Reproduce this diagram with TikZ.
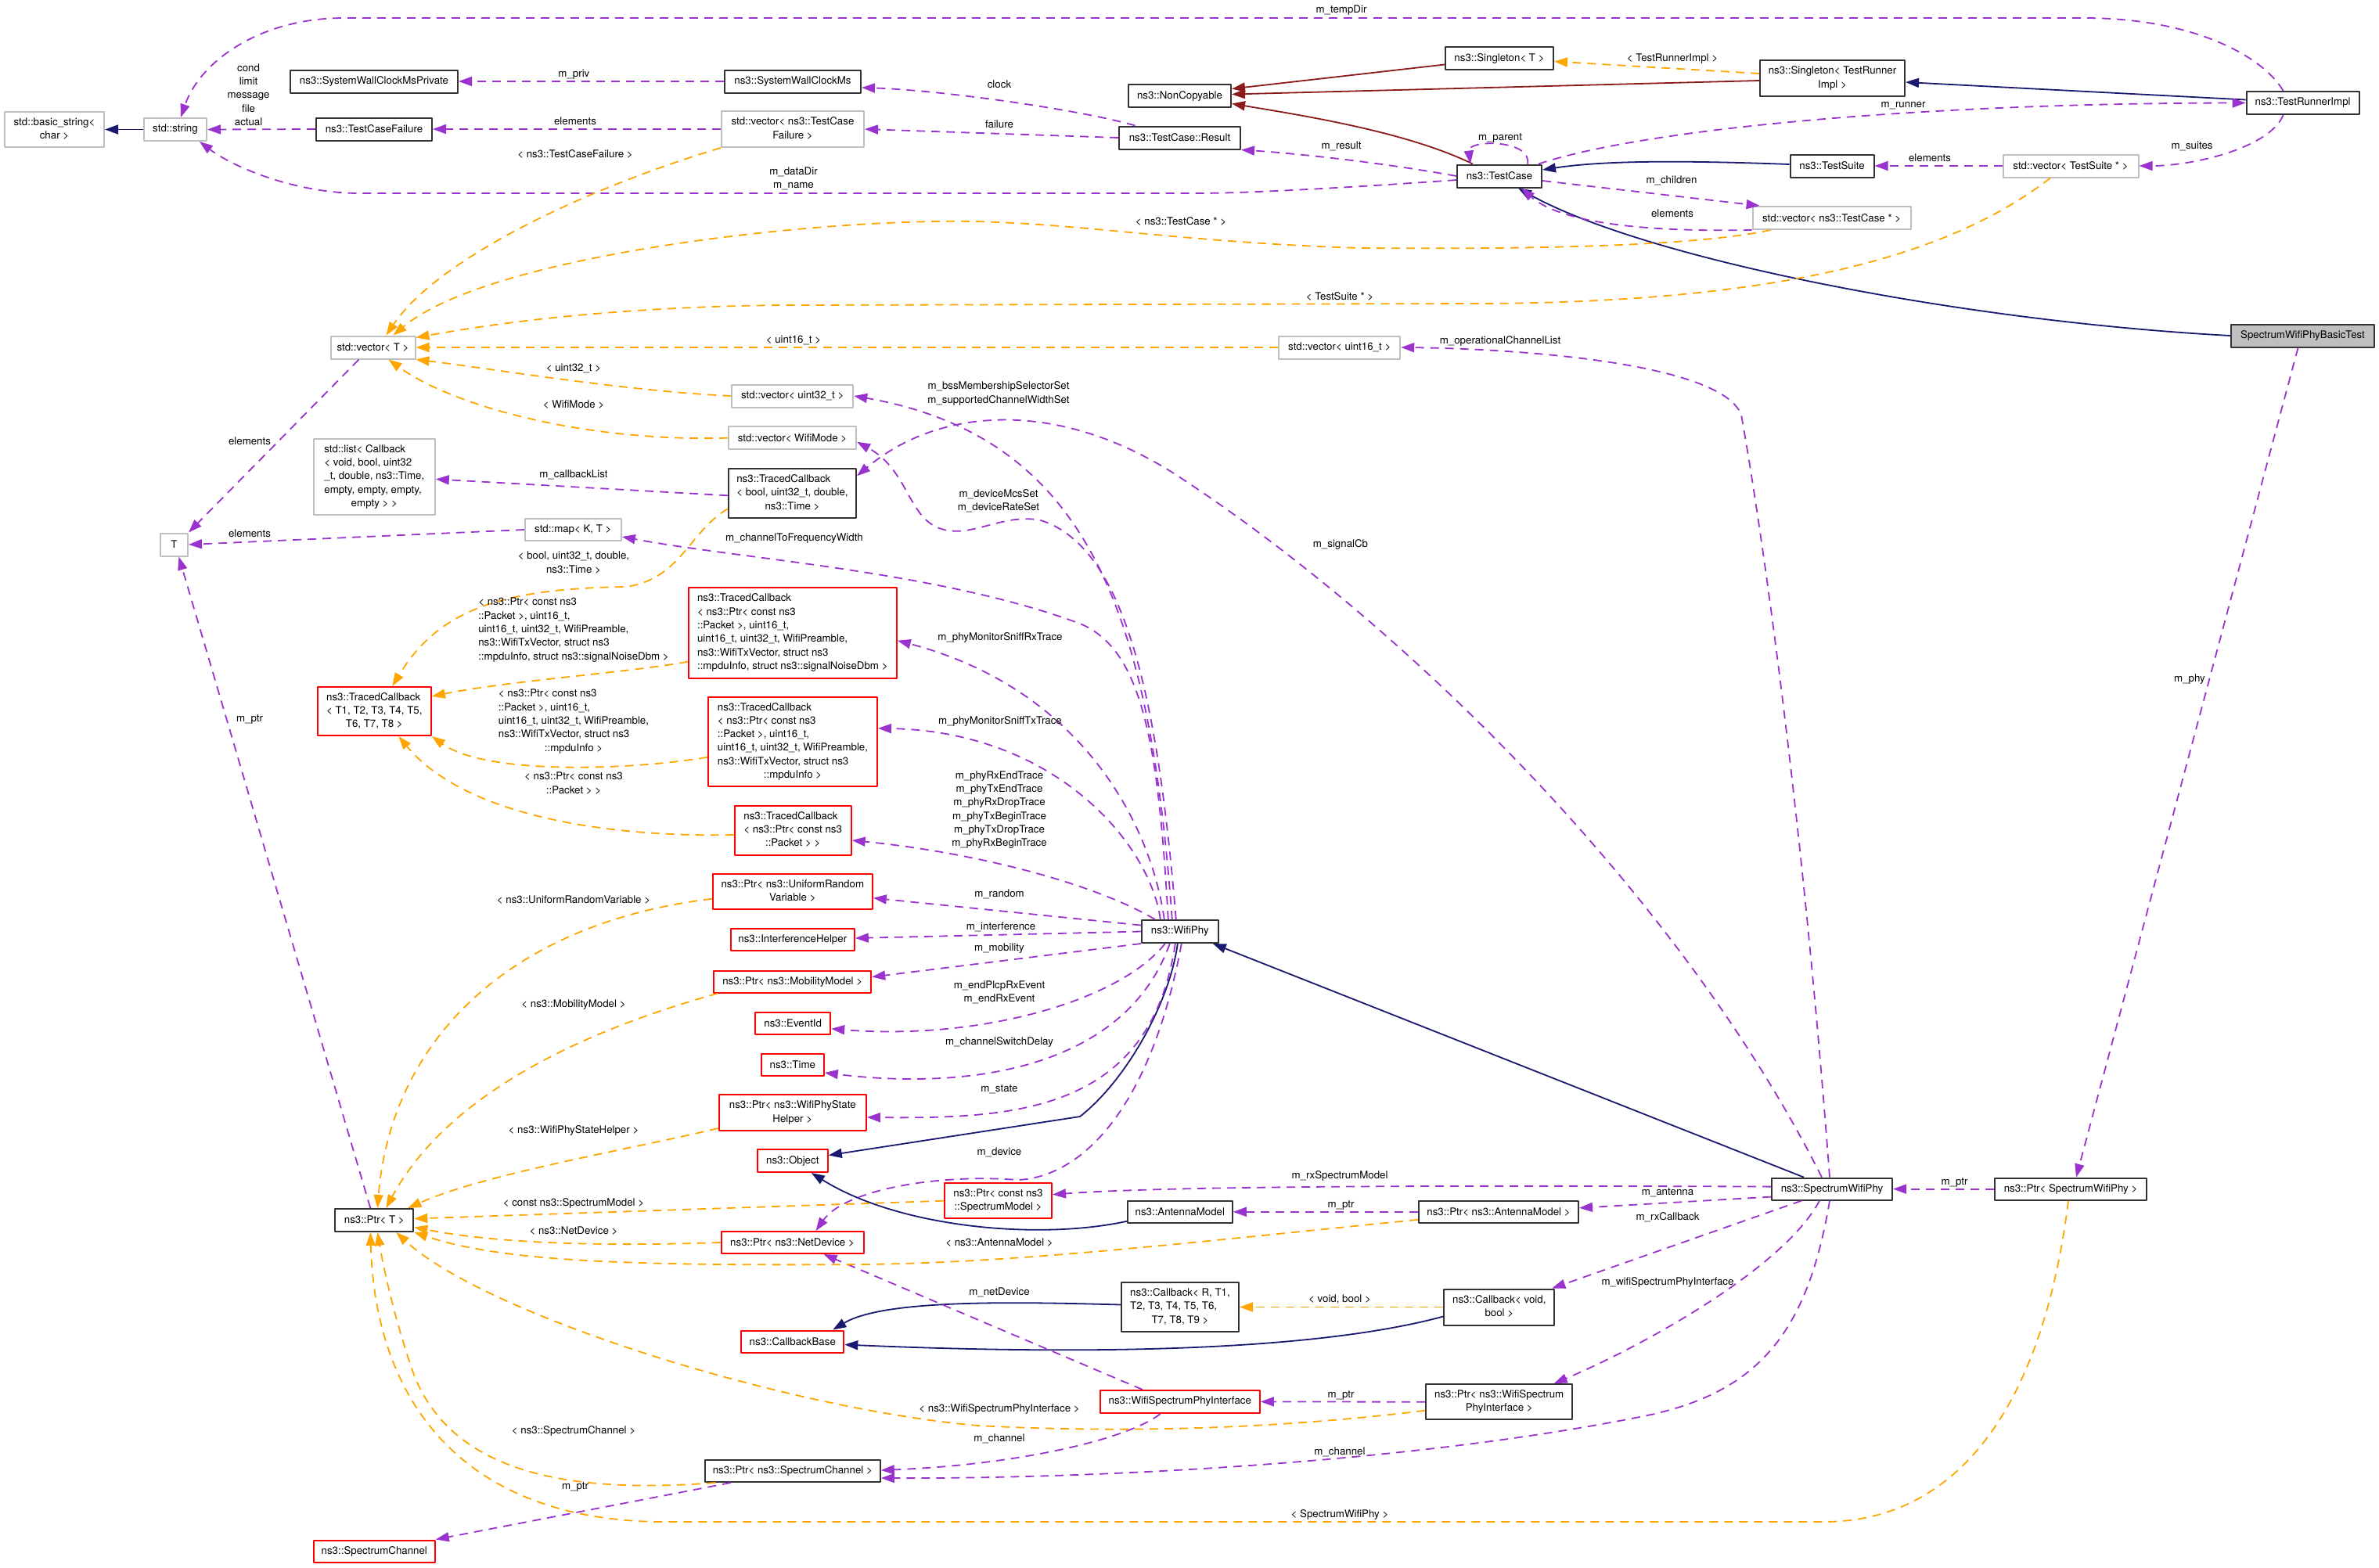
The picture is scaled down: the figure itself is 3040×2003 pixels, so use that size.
\documentclass[tikz,border=0pt]{standalone}
\usepackage{fontspec}
\setmainfont{TeX Gyre Heros}
\usetikzlibrary{arrows.meta}
\definecolor{usecol}{RGB}{154,50,205}
\definecolor{tplcol}{RGB}{255,165,0}
\definecolor{pubcol}{RGB}{25,25,112}
\definecolor{prvcol}{RGB}{139,26,26}
\definecolor{extcol}{RGB}{191,191,191}
\newcommand{\dxf}{\fontsize{13.3pt}{17.3pt}\selectfont}
\newcommand{\dotlines}[2]{\begin{tabular}{@{}l@{}}#1\\\multicolumn{1}{@{}c@{}}{#2}\end{tabular}}
\begin{document}
\begin{tikzpicture}[x=1pt, y=-1pt, font=\dxf, line join=round,
    cls/.style={draw=black!80, line width=2pt, fill=white, inner sep=0pt},
    ext/.style={cls, draw=extcol},
    undoc/.style={cls, draw=red},
    focus/.style={cls, fill=extcol},
    lbl/.style={inner sep=0pt, align=center},
    usage/.style={draw=usecol, line width=1.8pt, dash pattern=on 11pt off 8pt, -{Triangle[length=17pt,width=12pt]}},
    tpl/.style={usage, draw=tplcol},
    pub/.style={draw=pubcol, line width=1.8pt, -{Triangle[length=17pt,width=12pt]}},
    prv/.style={pub, draw=prvcol}]
    \useasboundingbox (0,0) rectangle (3040,2003);
    % ---- test framework ----
    \node[ext, minimum width=127pt, minimum height=45pt] (bstr) at (69.5,165.5) {\dotlines{std::basic\_string<}{char >}};
    \node[ext, minimum width=80pt, minimum height=29pt] (str) at (224,165.5) {std::string};
    \node[cls, minimum width=214pt, minimum height=29pt] (swcp) at (478,104) {ns3::SystemWallClockMsPrivate};
    \node[cls, minimum width=148pt, minimum height=29pt] (tcf) at (478,165) {ns3::TestCaseFailure};
    \node[cls, minimum width=174pt, minimum height=29pt] (swc) at (1013,104) {ns3::SystemWallClockMs};
    \node[ext, minimum width=182pt, minimum height=46pt] (vtcf) at (1013,165) {\dotlines{std::vector< ns3::TestCase}{Failure >}};
    \node[cls, minimum width=131pt, minimum height=29pt] (nc) at (1507.5,122.5) {ns3::NonCopyable};
    \node[cls, minimum width=155pt, minimum height=29pt] (res) at (1507.5,176) {ns3::TestCase::Result};
    \node[cls, minimum width=138pt, minimum height=29pt] (sgt) at (1916,74.5) {ns3::Singleton< T >};
    \node[cls, minimum width=185pt, minimum height=46pt] (sgr) at (2341.5,100) {\dotlines{ns3::Singleton< TestRunner}{Impl >}};
    \node[cls, minimum width=144pt, minimum height=29pt] (tri) at (2942.6,131.5) {ns3::TestRunnerImpl};
    \node[cls, minimum width=108pt, minimum height=29pt] (tc) at (1916,225) {ns3::TestCase};
    \node[cls, minimum width=107pt, minimum height=29pt] (ts) at (2341,212) {ns3::TestSuite};
    \node[ext, minimum width=173pt, minimum height=29pt] (vts) at (2646,212) {std::vector< TestSuite * >};
    \node[ext, minimum width=202pt, minimum height=29pt] (vtc) at (2340.6,278.5) {std::vector< ns3::TestCase * >};
    \node[focus, minimum width=183pt, minimum height=29pt] (basic) at (2942.5,429) {SpectrumWifiPhyBasicTest};
    % ---- containers ----
    \node[ext, minimum width=108pt, minimum height=29pt] (vt) at (476.5,444) {std::vector< T >};
    \node[ext, minimum width=155pt, minimum height=29pt] (v16) at (1711.7,444) {std::vector< uint16\_t >};
    \node[ext, minimum width=155pt, minimum height=29pt] (v32) at (1012.7,506) {std::vector< uint32\_t >};
    \node[ext, minimum width=163pt, minimum height=29pt] (vwm) at (1012.5,559.7) {std::vector< WifiMode >};
    \node[ext, minimum width=155pt, minimum height=97pt] (lst) at (478.3,609.4) {\dotlines{std::list< Callback\\< void, bool, uint32\\\_t, double, ns3::Time,\\empty, empty, empty,}{empty > >}};
    \node[cls, minimum width=163pt, minimum height=63pt] (tcb) at (1012.5,630.3) {\dotlines{ns3::TracedCallback\\< bool, uint32\_t, double,}{ns3::Time >}};
    \node[ext, minimum width=35pt, minimum height=29pt] (tT) at (222.5,696) {T};
    \node[ext, minimum width=123pt, minimum height=28pt] (map) at (732.3,677) {std::map< K, T >};
    % ---- traced callbacks ----
    \node[undoc, minimum width=145pt, minimum height=62pt] (tc8) at (478.3,909) {\dotlines{ns3::TracedCallback\\< T1, T2, T3, T4, T5,}{T6, T7, T8 >}};
    \node[undoc, minimum width=266pt, minimum height=116pt] (tcs) at (1012.8,808.7) {\dotlines{ns3::TracedCallback\\< ns3::Ptr< const ns3\\::Packet >, uint16\_t,\\uint16\_t, uint32\_t, WifiPreamble,\\ns3::WifiTxVector, struct ns3}{::mpduInfo, struct ns3::signalNoiseDbm >}};
    \node[undoc, minimum width=216pt, minimum height=114pt] (tcm) at (1013,947.8) {\dotlines{ns3::TracedCallback\\< ns3::Ptr< const ns3\\::Packet >, uint16\_t,\\uint16\_t, uint32\_t, WifiPreamble,\\ns3::WifiTxVector, struct ns3}{::mpduInfo >}};
    \node[undoc, minimum width=149pt, minimum height=63pt] (tcp) at (1013.2,1061) {\dotlines{ns3::TracedCallback\\< ns3::Ptr< const ns3}{::Packet > >}};
    % ---- wifi phy members ----
    \node[undoc, minimum width=204pt, minimum height=45pt] (urv) at (1012.8,1139.7) {\dotlines{ns3::Ptr< ns3::UniformRandom}{Variable >}};
    \node[undoc, minimum width=158pt, minimum height=28pt] (ih) at (1012.8,1201) {ns3::InterferenceHelper};
    \node[undoc, minimum width=201pt, minimum height=28pt] (mob) at (1012.7,1254.6) {ns3::Ptr< ns3::MobilityModel >};
    \node[undoc, minimum width=96pt, minimum height=28pt] (eid) at (1013.2,1307.8) {ns3::EventId};
    \node[undoc, minimum width=80pt, minimum height=28pt] (tim) at (1012.8,1361) {ns3::Time};
    \node[undoc, minimum width=188pt, minimum height=46pt] (psh) at (1012.8,1422) {\dotlines{ns3::Ptr< ns3::WifiPhyState}{Helper >}};
    \node[undoc, minimum width=90pt, minimum height=29pt] (obj) at (1012.8,1483.5) {ns3::Object};
    \node[cls, minimum width=100pt, minimum height=29pt] (ptrT) at (478.3,1559.5) {ns3::Ptr< T >};
    \node[undoc, minimum width=182pt, minimum height=28pt] (pnd) at (1012.5,1588) {ns3::Ptr< ns3::NetDevice >};
    \node[undoc, minimum width=131pt, minimum height=28pt] (cbb) at (1012.8,1714.5) {ns3::CallbackBase};
    \node[cls, minimum width=224pt, minimum height=28pt] (psc) at (1012.8,1880) {ns3::Ptr< ns3::SpectrumChannel >};
    \node[undoc, minimum width=155pt, minimum height=28pt] (sch) at (478.3,1982.5) {ns3::SpectrumChannel};
    \node[cls, minimum width=98pt, minimum height=29pt] (wp) at (1507.8,1190.5) {ns3::WifiPhy};
    \node[undoc, minimum width=137pt, minimum height=45pt] (psm) at (1275.5,1534.7) {\dotlines{ns3::Ptr< const ns3}{::SpectrumModel >}};
    \node[cls, minimum width=134pt, minimum height=28pt] (am) at (1507.8,1548.8) {ns3::AntennaModel};
    \node[cls, minimum width=204pt, minimum height=28pt] (pam) at (1915,1548.8) {ns3::Ptr< ns3::AntennaModel >};
    \node[cls, minimum width=150pt, minimum height=63pt] (cbr) at (1508,1670.5) {\dotlines{ns3::Callback< R, T1,\\T2, T3, T4, T5, T6,}{T7, T8, T9 >}};
    \node[cls, minimum width=141pt, minimum height=46pt] (cbv) at (1915.8,1670.5) {\dotlines{ns3::Callback< void,}{bool >}};
    \node[undoc, minimum width=204pt, minimum height=29pt] (wspi) at (1507.8,1791.4) {ns3::WifiSpectrumPhyInterface};
    \node[cls, minimum width=187pt, minimum height=45pt] (pwspi) at (1915.7,1791.7) {\dotlines{ns3::Ptr< ns3::WifiSpectrum}{PhyInterface >}};
    \node[cls, minimum width=154pt, minimum height=28pt] (swp) at (2341,1519.6) {ns3::SpectrumWifiPhy};
    \node[cls, minimum width=194pt, minimum height=28pt] (pswp) at (2646,1519.6) {ns3::Ptr< SpectrumWifiPhy >};
    % ---- inheritance ----
    \draw[pub] (str.west) -- (bstr.east);
    \draw[pub] ([yshift=4pt]tri.west) -- ([yshift=-5pt]sgr.east);
    \draw[pub] ([yshift=2pt]ts.west) .. controls (2150,205) and (2050,205) .. ([yshift=8pt]tc.east);
    \draw[pub] (basic.west) .. controls (2500,410) and (2100,330) .. ([xshift=24pt]tc.south);
    \draw[pub] ([xshift=-36pt]swp.north) -- ([xshift=42pt]wp.south);
    \draw[pub] ([xshift=-3pt]wp.south) .. controls (1495,1280) and (1440,1380) .. (1380,1427) -- ([yshift=7pt]obj.east);
    \draw[pub] ([yshift=-12pt]am.west) .. controls (1330,1585) and (1150,1570) .. ([xshift=24pt]obj.south);
    \draw[pub] ([yshift=3pt]cbr.west) .. controls (1300,1664) and (1130,1660) .. ([xshift=-15pt]cbb.north east);
    \draw[pub] ([yshift=-12pt]cbv.west) .. controls (1650,1735) and (1300,1728) .. ([yshift=-4pt]cbb.east);
    \draw[prv] ([yshift=-8pt]sgt.west) -- ([yshift=9pt]nc.east);
    \draw[prv] ([yshift=-3pt]sgr.west) -- ([yshift=2pt]nc.east);
    \draw[prv] ([xshift=-34pt]tc.north) .. controls (1800,170) and (1680,150) .. ([yshift=-10pt]nc.east);
    % ---- members ----
    \draw[usage] ([xshift=-25pt]tri.north) .. controls (2890,70) and (2800,23) .. (2663,23) -- (440,23) .. controls (330,23) and (255,80) .. ([xshift=7pt]str.north);
    \draw[usage] (tcf.west) -- (str.east);
    \draw[usage] (swc.west) -- (swcp.east);
    \draw[usage] (vtcf.west) -- (tcf.east);
    \draw[usage] ([xshift=-57pt]res.north) .. controls (1380,140) and (1200,115) .. ([yshift=-8pt]swc.east);
    \draw[usage] (res.west) -- (vtcf.east);
    \draw[usage] (tc.west) .. controls (1750,205) and (1640,195) .. (res.south east);
    \draw[usage] ([xshift=36pt]tc.north) .. controls (1958,178) and (1875,178) .. ([xshift=-37pt]tc.north);
    \draw[usage] ([yshift=-5pt]tc.west) .. controls (1750,238) and (1600,247) .. (1531,247) -- (459,247) .. controls (380,247) and (300,215) .. ([xshift=31pt]str.south);
    \draw[usage] ([xshift=50pt]tc.north) .. controls (2100,165) and (2450,132) .. (tri.west);
    \draw[usage] ([xshift=-25pt]tri.south) .. controls (2900,190) and (2800,212) .. (vts.east);
    \draw[usage] (vts.west) -- (ts.east);
    \draw[usage] ([yshift=-6pt]tc.east) -- ([xshift=10pt]vtc.north west);
    \draw[usage] (vtc.south west) .. controls (2130,296) and (2000,290) .. ([xshift=28pt]tc.south);
    \draw[usage] ([xshift=-6pt]basic.south) -- ([xshift=7pt]pswp.north);
    \draw[usage] (pswp.west) -- (swp.east);
    \draw[usage] ([xshift=-3pt]swp.north) .. controls (2300,1000) and (2245,640) .. (2225,530) .. controls (2200,465) and (1950,446) .. (v16.east);
    \draw[usage] ([xshift=-13pt]swp.north) .. controls (2150,1150) and (1800,800) .. (1500,605) .. controls (1350,510) and (1200,520) .. ([yshift=22pt]tcb.east);
    \draw[usage] ([xshift=-10pt]wp.north) .. controls (1470,800) and (1400,560) .. (v32.east);
    \draw[usage] ([xshift=-5pt]wp.north) .. controls (1480,900) and (1440,700) .. (1330,665) .. controls (1280,655) and (1240,690) .. (1200,675) .. controls (1160,660) and (1160,600) .. ([yshift=-5pt]vwm.east);
    \draw[usage] ([xshift=-15pt]wp.north) .. controls (1480,950) and (1460,830) .. (1380,797) .. controls (1200,730) and (950,715) .. ([yshift=-9pt]map.east);
    \draw[usage] ([xshift=-20pt]wp.north) .. controls (1470,1050) and (1380,880) .. ([yshift=-10pt]tcs.east);
    \draw[usage] ([xshift=-25pt]wp.north) .. controls (1470,1080) and (1350,935) .. ([yshift=17pt]tcm.east);
    \draw[usage] ([xshift=-32pt]wp.north) .. controls (1400,1130) and (1250,1090) .. ([yshift=-13pt]tcp.east);
    \draw[usage] ([yshift=8pt]wp.west) -- ([yshift=-8pt]urv.east);
    \draw[usage] (wp.west) -- ([yshift=2pt]ih.east);
    \draw[usage] (wp.south west) -- ([yshift=6pt]mob.east);
    \draw[usage] ([xshift=-19pt]wp.south) .. controls (1430,1280) and (1250,1330) .. ([yshift=-7pt]eid.east);
    \draw[usage] ([xshift=-13pt]wp.south) .. controls (1440,1360) and (1250,1395) .. ([yshift=-10pt]tim.east);
    \draw[usage] ([xshift=-6pt]wp.south) .. controls (1470,1420) and (1300,1430) .. ([yshift=-6pt]psh.east);
    \draw[usage] ([xshift=2pt]wp.south) .. controls (1470,1420) and (1380,1505) .. (1300,1508) .. controls (1200,1500) and (1080,1520) .. ([xshift=30pt]pnd.north);
    \draw[usage] ([yshift=3pt]swp.west) .. controls (1900,1515) and (1500,1515) .. ([yshift=8pt]psm.east);
    \draw[usage] (pam.west) -- (am.east);
    \draw[usage] ([yshift=-10pt]swp.west) -- ([yshift=5pt]pam.east);
    \draw[usage] ([xshift=-39pt]swp.south) -- ([xshift=-4pt]cbv.north east);
    \draw[usage] ([xshift=-16pt]swp.south) .. controls (2280,1620) and (2100,1720) .. ([xshift=70pt]pwspi.north);
    \draw[usage] ([xshift=-3pt]swp.south) .. controls (2310,1700) and (2250,1780) .. (2100,1810) .. controls (1800,1870) and (1400,1890) .. ([yshift=-9pt]psc.east);
    \draw[usage] ([xshift=-25pt]wspi.south) .. controls (1440,1840) and (1300,1872) .. ([yshift=1pt]psc.east);
    \draw[usage] ([xshift=-48pt]wspi.north) -- ([xshift=40pt]pnd.south);
    \draw[usage] (pwspi.west) -- (wspi.east);
    \draw[usage] ([xshift=-79pt]psc.south) -- (sch.north east);
    \draw[usage] ([xshift=-5pt]ptrT.north) -- ([xshift=6pt]tT.south);
    \draw[usage] ([xshift=-18pt]vt.south) -- (tT.north east);
    \draw[usage] (map.west) -- (tT.east);
    \draw[usage] ([yshift=-3pt]tcb.west) -- ([yshift=-3pt]lst.east);
    % ---- template instances ----
    \draw[tpl] ([yshift=6pt]sgr.west) -- ([yshift=-4pt]sgt.east);
    \draw[tpl] (vtcf.south west) .. controls (750,240) and (560,330) .. ([xshift=17pt]vt.north);
    \draw[tpl] ([xshift=24pt]vtc.south west) .. controls (2150,318) and (1900,318) .. (1740,317) .. controls (1500,310) and (1350,280) .. (1200,283) .. controls (1000,285) and (620,330) .. ([xshift=26pt]vt.north);
    \draw[tpl] ([xshift=-26pt]vts.south) .. controls (2500,320) and (2300,385) .. (1900,388) -- (1000,390) .. controls (800,392) and (650,410) .. ([yshift=-3pt]vt.north east);
    \draw[tpl] (v16.west) -- (vt.east);
    \draw[tpl] (v32.west) .. controls (800,500) and (620,470) .. (vt.south east);
    \draw[tpl] (vwm.west) .. controls (750,565) and (580,520) .. ([xshift=20pt]vt.south);
    \draw[tpl] ([yshift=-20pt]tcb.west) .. controls (880,680) and (870,740) .. (800,750) .. controls (640,752) and (560,780) .. ([xshift=23pt]tc8.north);
    \draw[tpl] ([yshift=-37pt]tcs.west) .. controls (800,860) and (650,870) .. ([yshift=19pt]tc8.east);
    \draw[tpl] ([yshift=-20pt]tcm.west) .. controls (800,985) and (620,990) .. (tc8.south east);
    \draw[tpl] ([yshift=-6pt]tcp.west) .. controls (800,1070) and (600,1050) .. ([xshift=31pt]tc8.south);
    \draw[tpl] ([yshift=-9pt]urv.west) .. controls (650,1180) and (500,1330) .. ([xshift=4pt]ptrT.north);
    \draw[tpl] ([xshift=6pt]mob.south west) .. controls (700,1330) and (560,1420) .. ([xshift=15pt]ptrT.north);
    \draw[tpl] ([yshift=-20pt]psh.west) .. controls (800,1470) and (620,1500) .. ([xshift=-8pt]ptrT.north east);
    \draw[tpl] (psm.west) -- ([yshift=2pt]ptrT.east);
    \draw[tpl] (pnd.west) .. controls (800,1592) and (650,1592) .. ([yshift=-9pt]ptrT.east);
    \draw[tpl] ([yshift=-10pt]pam.west) .. controls (1500,1590) and (1300,1614) .. (1100,1616) .. controls (800,1618) and (640,1612) .. (ptrT.south east);
    \draw[tpl] ([yshift=-11pt]pwspi.west) .. controls (1600,1830) and (1400,1830) .. (1250,1822) .. controls (1000,1800) and (620,1680) .. ([xshift=-23pt]ptrT.south east);
    \draw[tpl] ([xshift=14pt]psc.south west) .. controls (720,1910) and (580,1880) .. (530,1760) .. controls (505,1690) and (490,1620) .. ([xshift=4pt]ptrT.south);
    \draw[tpl] ([xshift=-3pt]pswp.south) .. controls (2610,1800) and (2500,1945) .. (2330,1945) -- (850,1945) .. controls (600,1945) and (480,1800) .. ([xshift=-5pt]ptrT.south);
    \draw[tpl] (cbv.west) -- (cbr.east);
    % ---- labels ----
    \node[lbl] (lTempDir) at (1714,13) {m\_tempDir};
    \node[lbl] (lCond) at (317.6,121) {cond\\limit\\message\\file\\actual};
    \node[lbl] (lPriv) at (733.4,95) {m\_priv};
    \node[lbl] (lElemFail) at (735,155) {elements};
    \node[lbl] (lTplFail) at (735,197) {< ns3::TestCaseFailure >};
    \node[lbl] (lClock) at (1277,108) {clock};
    \node[lbl] (lFailure) at (1277,159) {failure};
    \node[lbl] (lDataDir) at (1014,228) {m\_dataDir\\m\_name};
    \node[lbl] (lResult) at (1714,187) {m\_result};
    \node[lbl] (lParent) at (1917,177) {m\_parent};
    \node[lbl] (lTplRunner) at (2137,75) {< TestRunnerImpl >};
    \node[lbl] (lRunner) at (2432,135) {m\_runner};
    \node[lbl] (lSuites) at (2801,187) {m\_suites};
    \node[lbl] (lElemSuite) at (2466,202) {elements};
    \node[lbl] (lChildren) at (2136,231) {m\_children};
    \node[lbl] (lElemCase) at (2137,273) {elements};
    \node[lbl] (lTplCase) at (1509,283) {< ns3::TestCase * >};
    \node[lbl] (lTplSuite) at (1712,379) {< TestSuite * >};
    \node[lbl] (lTpl16) at (1014,435) {< uint16\_t >};
    \node[lbl] (lOpChan) at (1917,436) {m\_operationalChannelList};
    \node[lbl] (lTpl32) at (733,471) {< uint32\_t >};
    \node[lbl] (lTplMode) at (733,517) {< WifiMode >};
    \node[lbl] (lBss) at (1276,503) {m\_bssMembershipSelectorSet\\m\_supportedChannelWidthSet};
    \node[lbl] (lElemVec) at (319,564) {elements};
    \node[lbl] (lCbList) at (733,607) {m\_callbackList};
    \node[lbl] (lMcs) at (1276,640) {m\_deviceMcsSet\\m\_deviceRateSet};
    \node[lbl] (lElemMap) at (319,682) {elements};
    \node[lbl] (lFreq) at (1015,688) {m\_channelToFrequencyWidth};
    \node[lbl] (lSignal) at (1713,695.5) {m\_signalCb};
    \node[lbl] (lTplBool) at (733,720) {\dotlines{< bool, uint32\_t, double,}{ns3::Time >}};
    \node[lbl] (lTplSnr) at (733,805) {\dotlines{< ns3::Ptr< const ns3\\::Packet >, uint16\_t,\\uint16\_t, uint32\_t, WifiPreamble,\\ns3::WifiTxVector, struct ns3}{::mpduInfo, struct ns3::signalNoiseDbm >}};
    \node[lbl] (lSniffRx) at (1278,815) {m\_phyMonitorSniffRxTrace};
    \node[lbl] (lPtrT) at (319,919) {m\_ptr};
    \node[lbl] (lTplMpdu) at (733,922) {\dotlines{< ns3::Ptr< const ns3\\::Packet >, uint16\_t,\\uint16\_t, uint32\_t, WifiPreamble,\\ns3::WifiTxVector, struct ns3}{::mpduInfo >}};
    \node[lbl] (lSniffTx) at (1278,922) {m\_phyMonitorSniffTxTrace};
    \node[lbl] (lTplPkt) at (733,1002) {\dotlines{< ns3::Ptr< const ns3}{::Packet > >}};
    \node[lbl] (lTraces) at (1277,1035) {m\_phyRxEndTrace\\m\_phyTxEndTrace\\m\_phyRxDropTrace\\m\_phyTxBeginTrace\\m\_phyTxDropTrace\\m\_phyRxBeginTrace};
    \node[lbl] (lRandom) at (1277,1143) {m\_random};
    \node[lbl] (lTplUrv) at (733,1150.5) {< ns3::UniformRandomVariable >};
    \node[lbl] (lInterf) at (1279,1185) {m\_interference};
    \node[lbl] (lMobility) at (1277,1212) {m\_mobility};
    \node[lbl] (lEvents) at (1277,1268) {m\_endPlcpRxEvent\\m\_endRxEvent};
    \node[lbl] (lTplMob) at (733,1284) {< ns3::MobilityModel >};
    \node[lbl] (lSwitch) at (1277,1332) {m\_channelSwitchDelay};
    \node[lbl] (lState) at (1277,1392.5) {m\_state};
    \node[lbl] (lTplState) at (733,1445) {< ns3::WifiPhyStateHelper >};
    \node[lbl] (lDevice) at (1277,1473) {m\_device};
    \node[lbl] (lRxModel) at (1712,1503) {m\_rxSpectrumModel};
    \node[lbl] (lPtrPhy) at (2497.5,1511) {m\_ptr};
    \node[lbl] (lAntenna) at (2131,1524) {m\_antenna};
    \node[lbl] (lTplModel) at (733,1538) {< const ns3::SpectrumModel >};
    \node[lbl] (lPtrAnt) at (1713.5,1540) {m\_ptr};
    \node[lbl] (lRxCb) at (2131,1556) {m\_rxCallback};
    \node[lbl] (lTplDev) at (733,1573) {< ns3::NetDevice >};
    \node[lbl] (lTplAnt) at (1277,1588) {< ns3::AntennaModel >};
    \node[lbl] (lIface) at (2131,1639) {m\_wifiSpectrumPhyInterface};
    \node[lbl] (lNetDev) at (1277,1652) {m\_netDevice};
    \node[lbl] (lTplCb) at (1712,1661) {< void, bool >};
    \node[lbl] (lPtrIface) at (1713.5,1783) {m\_ptr};
    \node[lbl] (lTplIface) at (1277,1801) {< ns3::WifiSpectrumPhyInterface >};
    \node[lbl] (lTplChan) at (733,1829) {< ns3::SpectrumChannel >};
    \node[lbl] (lChanA) at (1277,1839) {m\_channel};
    \node[lbl] (lChanB) at (1712,1856) {m\_channel};
    \node[lbl] (lPtrChan) at (735,1900) {m\_ptr};
    \node[lbl] (lTplPhy) at (1712,1936) {< SpectrumWifiPhy >};
    \node[lbl] (lPhy) at (2798,868) {m\_phy};
\end{tikzpicture}
\end{document}
